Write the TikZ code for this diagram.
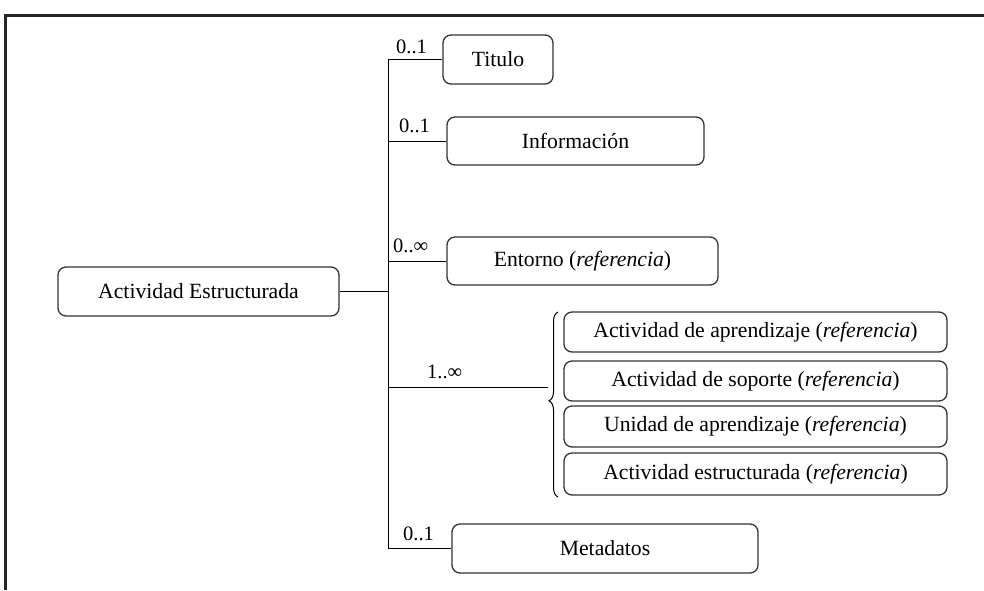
\documentclass[tikz,border=0pt]{standalone}
\usepackage{fontspec}
\setmainfont{Liberation Serif}
\usetikzlibrary{decorations.pathreplacing}
\begin{document}
\begin{tikzpicture}[x=1pt,y=-1pt,
  box/.style={draw=black!80,line width=1.3pt,rounded corners=8pt,inner sep=0pt,
    font=\fontsize{21.7}{26}\selectfont},
  conn/.style={draw=black,line width=1pt},
  card/.style={inner sep=0pt,anchor=base west,font=\fontsize{20.5}{24}\selectfont}]
\useasboundingbox (0,0) rectangle (984,590);
% frame
\draw[line width=2.8pt,black!85] (5.3,590) -- (5.3,15.7) -- (984,15.7);
% boxes
\node[box,minimum width=281pt,minimum height=49pt] (ae) at (198.5,291.5) {Actividad Estructurada};
\node[box,minimum width=110pt,minimum height=49pt] (tit) at (498,59.5) {Titulo};
\node[box,minimum width=257pt,minimum height=48pt] (inf) at (575.5,141) {Información};
\node[box,minimum width=271pt,minimum height=48pt] (ent) at (582.5,261) {Entorno (\textit{referencia})};
\node[box,minimum width=383pt,minimum height=40pt] (b1) at (755.5,332) {Actividad de aprendizaje (\textit{referencia})};
\node[box,minimum width=383pt,minimum height=40pt] (b2) at (755.5,381) {Actividad de soporte (\textit{referencia})};
\node[box,minimum width=383pt,minimum height=41pt] (b3) at (755.5,426.5) {Unidad de aprendizaje (\textit{referencia})};
\node[box,minimum width=383pt,minimum height=42pt] (b4) at (755.5,474) {Actividad estructurada (\textit{referencia})};
\node[box,minimum width=306pt,minimum height=49pt] (meta) at (605,548.5) {Metadatos};
% trunk
\coordinate (tx) at (388,0);
\coordinate (tip) at (548,387);
\draw[conn] (tit.west) -- (tit.west -| tx) -- (meta.west -| tx) -- (meta.west);
\draw[conn] (ae.east) -- (ae.east -| tx);
\draw[conn] (inf.west) -- (inf.west -| tx);
\draw[conn] (ent.west) -- (ent.west -| tx);
\draw[conn] (tip -| tx) -- (tip);
% brace
\draw[line width=1pt,decorate,decoration={brace,amplitude=9pt,aspect=0.52}] (558,497) -- (558,312);
% cardinalities
\node[card] (c1) at (396,53) {0..1};
\node[card] (c2) at (399,132) {0..1};
\node[card] (c3) at (393,252) {0..∞};
\node[card] (c4) at (427,378) {1..∞};
\node[card] (c5) at (403,540) {0..1};
\end{tikzpicture}
\end{document}
